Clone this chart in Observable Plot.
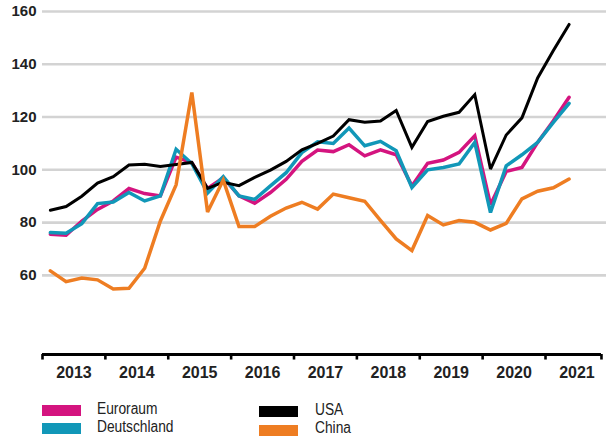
<!DOCTYPE html>
<html>
<head>
<meta charset="utf-8">
<script src="https://cdn.jsdelivr.net/npm/d3@7"></script>
<script src="https://cdn.jsdelivr.net/npm/@observablehq/plot@0.6"></script>
<style>
  html, body { margin: 0; padding: 0; background: #fff; }
  #wrap { position: relative; width: 606px; height: 438px; overflow: hidden; font-family: "Liberation Sans", Arial, sans-serif; }
  #chart { position: absolute; left: 0; top: 0; }
  .sw { position: absolute; width: 39px; height: 11px; }
  .lt { position: absolute; font-family: "Liberation Sans", Arial, sans-serif; font-size: 16px; color: #222; line-height: 1; transform: scaleX(0.86); transform-origin: left top; white-space: nowrap; }
</style>
</head>
<body>
<div id="wrap">
  <div id="chart"></div>
</div>
<script>
// ---- data ----
const years = [2013, 2014, 2015, 2016, 2017, 2018, 2019, 2020, 2021];
const yTicks = [60, 80, 100, 120, 140, 160];
const quarters = [
  "2013Q1","2013Q2","2013Q3","2013Q4","2014Q1","2014Q2","2014Q3","2014Q4",
  "2015Q1","2015Q2","2015Q3","2015Q4","2016Q1","2016Q2","2016Q3","2016Q4",
  "2017Q1","2017Q2","2017Q3","2017Q4","2018Q1","2018Q2","2018Q3","2018Q4",
  "2019Q1","2019Q2","2019Q3","2019Q4","2020Q1","2020Q2","2020Q3","2020Q4",
  "2021Q1","2021Q2"
];
const euroraum = [75.6, 75.2, 80.6, 85.0, 88.2, 92.9, 91.0, 90.1, 104.8, 102.7, 92.9, 97.0,
  90.1, 87.3, 91.4, 96.4, 103.2, 107.5, 106.9, 109.5, 105.3, 107.6, 105.7, 93.9,
  102.5, 103.7, 106.6, 112.9, 86.8, 99.4, 100.9, 110.4, 118.6, 127.5];
const deutschland = [76.2, 76.0, 79.6, 87.2, 87.8, 91.4, 88.2, 90.1, 107.8, 102.4, 91.2, 97.4,
  90.1, 88.8, 93.9, 98.9, 106.5, 110.6, 110.0, 115.8, 109.1, 110.8, 107.2, 93.3,
  100.0, 100.9, 102.2, 110.4, 83.8, 101.5, 105.7, 110.4, 118.0, 125.2];
const usa = [84.7, 86.1, 90.0, 95.0, 97.4, 101.8, 102.1, 101.3, 102.0, 102.8, 93.0, 95.3,
  94.0, 97.1, 99.9, 103.2, 107.6, 110.0, 112.8, 119.0, 118.0, 118.5, 122.5, 108.5,
  118.3, 120.3, 121.8, 128.5, 100.3, 113.2, 119.7, 134.8, 145.2, 155.1];
const china = [61.7, 57.6, 59.0, 58.3, 54.8, 55.1, 62.7, 80.6, 94.3, 129.3, 84.0, 96.1,
  78.5, 78.5, 82.4, 85.5, 87.7, 85.1, 90.8, 89.4, 88.1, 80.8, 73.8, 69.4,
  82.7, 79.1, 80.8, 80.1, 77.2, 79.7, 89.0, 91.9, 93.2, 96.5];

const seriesNames = ["Euroraum", "Deutschland", "USA", "China"];
const seriesColors = ["#d4147f", "#1197b8", "#000000", "#ee7d22"];
const seriesValues = [euroraum, deutschland, usa, china];
const seriesWidths = [3.5, 3.5, 3, 3.5];

// ---- build ----
const qx = q => +q.slice(0, 4) + (+q.slice(5) - 0.5) / 4;
const rows = [];
seriesNames.forEach((name, s) => {
  quarters.forEach((q, i) => rows.push({series: name, t: qx(q), v: seriesValues[s][i]}));
});

const yMin = 30, yMax = 160;
const xStart = years[0];
const axisEnd = years[years.length - 1] + 0.89;
const xEnd = years[years.length - 1] + 0.97;
const tickPositions = [...years, axisEnd];

const lineMarks = seriesNames.map((name, s) =>
  Plot.line(rows.filter(r => r.series === name), {
    x: "t", y: "v", stroke: seriesColors[s], strokeWidth: seriesWidths[s],
    strokeLinejoin: "miter", strokeMiterlimit: 3, curve: "linear"
  })
);

const plot = Plot.plot({
  width: 606,
  height: 390,
  marginLeft: 42,
  marginRight: 0,
  marginTop: 11,
  marginBottom: 36,
  style: {fontFamily: "'Liberation Sans', Arial, sans-serif", background: "white", overflow: "visible"},
  x: {domain: [xStart, xEnd], axis: null},
  y: {domain: [yMin, yMax], axis: null},
  marks: [
    Plot.ruleY(yTicks, {stroke: "#d3d3d3", strokeWidth: 2.6}),
    Plot.text(yTicks, {x: xStart, y: d => d, text: d => String(d), textAnchor: "end", dx: -6,
      fontSize: 15, fontWeight: "bold", fill: "#222"}),
    ...lineMarks,
    Plot.ruleY([yMin], {x1: xStart, x2: axisEnd, stroke: "#000", strokeWidth: 3}),
    Plot.ruleX(tickPositions, {y1: yMin, y2: yMin - 2.1, stroke: "#000", strokeWidth: 2.6}),
    Plot.text(years, {x: d => d + 0.5, y: yMin, text: d => String(d), dy: 18,
      fontSize: 16, fontWeight: "bold", fill: "#222"})
  ]
});
document.getElementById("chart").appendChild(plot);

// ---- legend ----
const legendPos = [
  {sx: 42, sy: 405, tx: 97, ty: 401},
  {sx: 42, sy: 423, tx: 97, ty: 419},
  {sx: 259, sy: 406, tx: 315, ty: 402},
  {sx: 259, sy: 425, tx: 315, ty: 420}
];
const wrap = document.getElementById("wrap");
seriesNames.forEach((name, s) => {
  const p = legendPos[s];
  const sw = document.createElement("div");
  sw.className = "sw";
  sw.style.left = p.sx + "px"; sw.style.top = p.sy + "px";
  sw.style.background = seriesColors[s];
  wrap.appendChild(sw);
  const t = document.createElement("div");
  t.className = "lt";
  t.style.left = p.tx + "px"; t.style.top = p.ty + "px";
  t.textContent = name;
  wrap.appendChild(t);
});
</script>
</body>
</html>
